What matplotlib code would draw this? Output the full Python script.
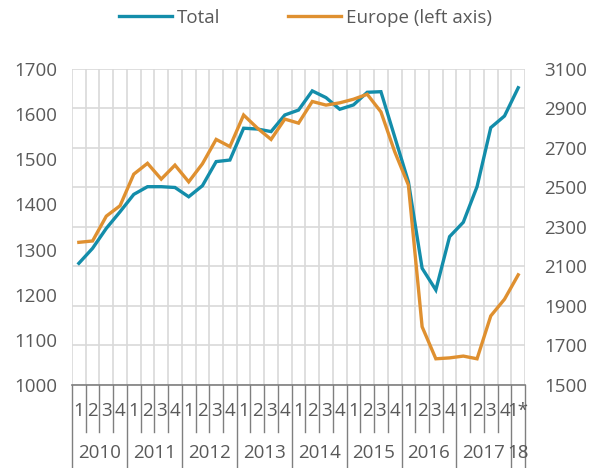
import numpy as np
import matplotlib.pyplot as plt
import matplotlib.transforms as mtransforms

plt.rcParams['font.family'] = ['Open Sans', 'DejaVu Sans']

# quarterly series, 2010 Q1 .. 2018 Q1
total = [2116, 2192, 2293, 2377, 2465, 2504, 2504, 2500,
         2453, 2509, 2631, 2639, 2800, 2796, 2783, 2867,
         2892, 2989, 2955, 2896, 2918, 2982, 2985, 2757,
         2529, 2091, 1981, 2251, 2324, 2504, 2803, 2862, 3005]
europe = [1316, 1319, 1374, 1397, 1467, 1491, 1456, 1487,
          1450, 1490, 1544, 1528, 1598, 1569, 1544, 1589,
          1580, 1628, 1620, 1625, 1633, 1644, 1605, 1517,
          1443, 1129, 1058, 1060, 1064, 1058, 1153, 1190, 1244]
quarters = ['1', '2', '3', '4'] * 8 + ['1*']
years = ['2010', '2011', '2012', '2013', '2014', '2015', '2016', '2017', '18']
year_len = [4, 4, 4, 4, 4, 4, 4, 4, 1]

teal = '#138DAA'
orange = '#DF9030'
txt = '#595959'
fs = 13.5

fig = plt.figure(figsize=(5.9, 4.68), dpi=100)
ax = fig.add_axes([0.122, 0.1774, 0.768, 0.6752])
ax2 = ax.twinx()

x = np.arange(len(total))

# Total on right-hand axis
l1, = ax.plot(x, total, color=teal, lw=2.4, solid_joinstyle='miter', label='Total')
ax.yaxis.tick_right()
ax.set_ylim(1500, 3100)
ax.set_yticks(np.arange(1500, 3101, 200))
ax.grid(axis='y', color='#D9D9D9', lw=1.2)
ax.set_axisbelow(True)

# Europe on left-hand axis
l2, = ax2.plot(x, europe, color=orange, lw=2.4, solid_joinstyle='miter', label='Europe (left axis)')
ax2.yaxis.tick_left()
ax2.set_ylim(1000, 1700)
ax2.set_yticks(np.arange(1000, 1701, 100))

ax.set_xlim(-0.5, len(x) - 0.5)
for a in (ax, ax2):
    for s in a.spines.values():
        s.set_visible(False)
    a.tick_params(axis='y', length=0, labelsize=fs, labelcolor=txt)
ax.tick_params(axis='y', pad=14)
ax2.tick_params(axis='y', pad=10.5)
ax.spines['bottom'].set_visible(True)
ax.spines['bottom'].set_color('#7F7F7F')
ax.spines['bottom'].set_linewidth(1.2)

# vertical gridlines at category boundaries
for b in np.arange(-0.5, len(x), 1):
    ax.axvline(b, color='#D9D9D9', lw=1.2, zorder=0)

# category axis: quarters and years
ax.set_xticks([])
trans = mtransforms.blended_transform_factory(ax.transData, ax.transAxes)
for i, q in enumerate(quarters):
    ax.text(i, -0.082, q, transform=trans, ha='center', va='center',
            fontsize=fs, color=txt)
start = 0
year_edges = {-0.5}
for y, n in zip(years, year_len):
    ax.text(start + (n - 1) / 2, -0.215, y, transform=trans, ha='center',
            va='center', fontsize=fs, color=txt)
    start += n
    year_edges.add(start - 0.5)
for b in np.arange(-0.5, len(x), 1):
    low = -0.263 if b in year_edges else -0.149
    ax.plot([b, b], [0, low], transform=trans, color='#7F7F7F', lw=1.0,
            clip_on=False)

fig.legend(handles=[l1, l2], loc='center', bbox_to_anchor=(0.518, 0.962),
           ncol=2, frameon=False, fontsize=fs, handlelength=2.8,
           columnspacing=3.6, handletextpad=0.3, labelcolor=txt)

fig.savefig('out.png', dpi=100)
